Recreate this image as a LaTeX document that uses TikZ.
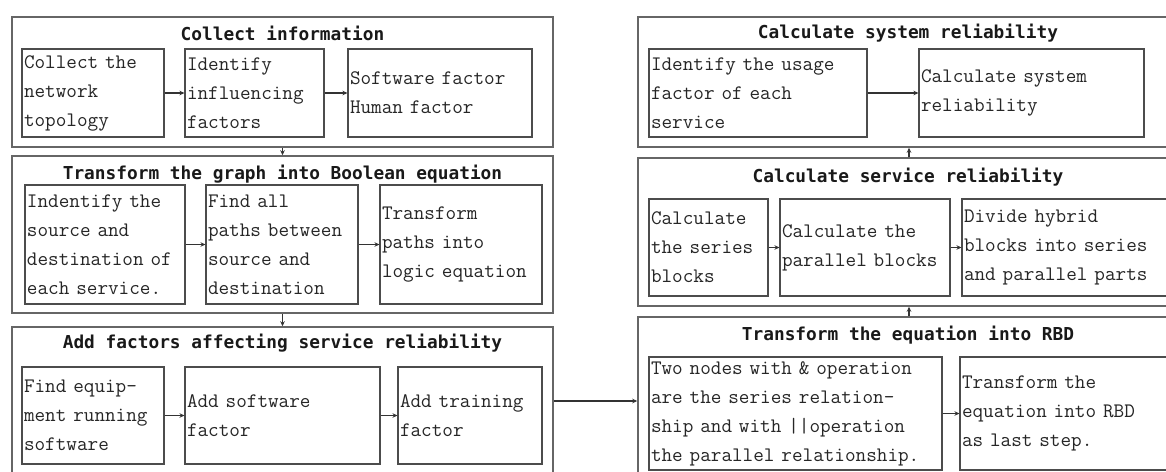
\documentclass[tikz,border=0pt]{standalone}
\usepackage{fontspec}
\newfontfamily\titlefont{DejaVu Sans Mono}
\usetikzlibrary{arrows.meta}
\begin{document}
\begin{tikzpicture}[x=1pt,y=-1pt,
  outerbox/.style={draw=black!60,line width=1.5pt,inner sep=0pt,minimum height=#1},
  inbox/.style={draw=black!70,line width=1.1pt,inner xsep=2pt,inner ysep=0pt,align=left,
     minimum height=#1,font=\ttfamily\fontsize{20.6}{29}\selectfont,text=black!85},
  ttl/.style={font=\titlefont\bfseries\fontsize{17.8}{20}\selectfont,text=black!90,inner sep=0pt},
  arr/.style={draw=black!80,line width=1.1pt,-{Stealth[length=5pt,width=4.5pt]}}]
\clip (0,0) rectangle (1166,471);
\fill[white] (0,0) rectangle (1166,471);
% ---------- left column ----------
\node[outerbox=130, minimum width=541] (L1) at (282.5,82) {};
\node[ttl] (L1t) at (282.5,33) {Collect information};
\node[inbox=88, text width=138] (L1a) at (93,93) {Collect the\\network\\topology};
\node[inbox=88, text width=135] (L1b) at (254.5,93) {Identify\\influencing\\factors};
\node[inbox=88, text width=180] (L1c) at (440,93) {Software factor\\Human factor};

\node[outerbox=157, minimum width=541] (L2) at (282.5,234.5) {};
\node[ttl] (L2t) at (282.5,174) {Transform the graph into Boolean equation};
\node[inbox=119, text width=156] (L2a) at (105,244.5) {Indentify the\\source and\\destination of\\each service.};
\node[inbox=119, text width=148] (L2b) at (282,244.5) {Find all\\paths between\\source and\\destination};
\node[inbox=119, text width=158] (L2c) at (461,244.5) {Transform\\paths into\\logic equation};

\node[outerbox=148, minimum width=541] (L3) at (282.5,401) {};
\node[ttl] (L3t) at (282.5,343) {Add factors affecting service reliability};
\node[inbox=97, text width=138] (L3a) at (93,415.5) {Find equip-\\ment running\\software};
\node[inbox=97, text width=191] (L3b) at (282.5,415.5) {Add software\\factor};
\node[inbox=97, text width=140] (L3c) at (470,415.5) {Add training\\factor};

% ---------- right column ----------
\node[outerbox=130, minimum width=542] (R1) at (909,82) {};
\node[ttl] (R1t) at (908,33) {Calculate system reliability};
\node[inbox=88, text width=214] (R1a) at (758,93) {Identify the usage\\factor of each\\service};
\node[inbox=88, text width=221] (R1b) at (1031.5,93) {Calculate system\\reliability};

\node[outerbox=148, minimum width=542] (R2) at (909,232) {};
\node[ttl] (R2t) at (908,177) {Calculate service reliability};
\node[inbox=97, text width=115] (R2a) at (708.5,247.5) {Calculate\\the series\\blocks};
\node[inbox=97, text width=166] (R2b) at (865,247.5) {Calculate the\\parallel blocks};
\node[inbox=97, text width=219] (R2c) at (1073.5,247.5) {Divide hybrid\\blocks into series\\and parallel parts};

\node[outerbox=161, minimum width=542] (R3) at (909,397.5) {};
\node[ttl] (R3t) at (908,335) {Transform the equation into RBD};
\node[inbox=113, text width=289] (R3a) at (795.5,413.5) {Two nodes with \& operation\\are the series relation-\\ship and with {|}{|}operation\\the parallel relationship.};
\node[inbox=113, text width=221] (R3b) at (1072.5,413.5) {Transform the\\equation into RBD\\as last step.};

% ---------- connectors ----------
\draw[arr] (L1a.east) -- (L1b.west);
\draw[arr] (L1b.east) -- (L1c.west);
\draw[arr] (L2a.east) -- (L2b.west);
\draw[arr] (L2b.east) -- (L2c.west);
\draw[arr] (L3a.east) -- (L3b.west);
\draw[arr] (L3b.east) -- (L3c.west);
\draw[arr] (L1.south) -- (L2.north);
\draw[arr] (L2.south) -- (L3.north);
\draw[arr] (L3.east) -- (L3.east -| R3.west);
\draw[arr] (R3.north) -- (R2.south);
\draw[arr] (R2.north) -- (R1.south);
\draw[arr] (R1a.east) -- (R1b.west);
\draw[arr] (R2a.east) -- (R2b.west);
\draw[arr] (R2b.east) -- (R2c.west);
\draw[arr] (R3a.east) -- (R3b.west);
\end{tikzpicture}
\end{document}
